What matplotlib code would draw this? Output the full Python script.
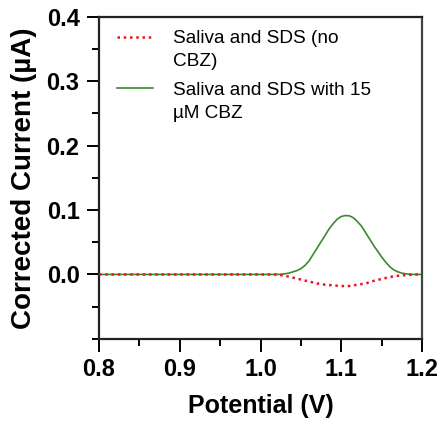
import matplotlib
matplotlib.use("Agg")
from matplotlib import pyplot as plt
from matplotlib.ticker import MultipleLocator
import numpy as np

plt.rcParams['font.family'] = ['Liberation Sans', 'DejaVu Sans']

# potential (V) and corrected current (uA)
pot_blank = [0.80, 0.90, 1.00, 1.02, 1.03, 1.04, 1.05, 1.06, 1.07, 1.08, 1.09,
             1.10, 1.11, 1.12, 1.13, 1.14, 1.15, 1.16, 1.17, 1.18, 1.19, 1.20]
no_cbz = [0.0, 0.0, 0.0, 0.0, -0.002, -0.005, -0.008, -0.011, -0.014, -0.016,
          -0.017, -0.018, -0.018, -0.016, -0.014, -0.010, -0.007, -0.004,
          -0.002, -0.001, 0.0, 0.0]

pot_cbz = [0.80, 0.90, 1.00, 1.020, 1.025, 1.030, 1.035, 1.040, 1.045, 1.050,
           1.055, 1.060, 1.065, 1.070, 1.075, 1.080, 1.085, 1.090, 1.095,
           1.100, 1.105, 1.110, 1.115, 1.120, 1.125, 1.130, 1.135, 1.140,
           1.145, 1.150, 1.155, 1.160, 1.165, 1.170, 1.175, 1.180, 1.185,
           1.190, 1.20]
with_cbz = [0.0, 0.0, 0.0, 0.0, 0.0003, 0.001, 0.002, 0.004, 0.006, 0.009,
            0.014, 0.021, 0.031, 0.041, 0.051, 0.061, 0.071, 0.079, 0.086,
            0.090, 0.0915, 0.091, 0.088, 0.082, 0.075, 0.065, 0.055, 0.045,
            0.036, 0.027, 0.019, 0.012, 0.007, 0.004, 0.002, 0.001, 0.0003,
            0.0, 0.0]

labels = ['Saliva and SDS (no\nCBZ)', 'Saliva and SDS with 15\n\u00b5M CBZ']

fig, ax = plt.subplots(figsize=(4.42, 4.23), dpi=100)
fig.subplots_adjust(left=0.224, right=0.955, top=0.960, bottom=0.199)

ax.plot(pot_blank, no_cbz, color='#e8141c', lw=1.8, linestyle=(0, (1, 1.5)),
        label=labels[0], zorder=3)
ax.plot(pot_cbz, with_cbz, color='#3a8a2e', lw=1.2, label=labels[1], zorder=2)

ax.set_xlim(0.8, 1.2)
ax.set_ylim(-0.1, 0.4)
ax.set_xticks([0.8, 0.9, 1.0, 1.1, 1.2])
ax.set_yticks([0.0, 0.1, 0.2, 0.3, 0.4])
ax.xaxis.set_minor_locator(MultipleLocator(0.05))
ax.yaxis.set_minor_locator(MultipleLocator(0.05))
ax.tick_params(which='major', length=9, width=1.4, labelsize=17, pad=5)
ax.tick_params(which='minor', length=5, width=1.4)
for lab in ax.get_xticklabels() + ax.get_yticklabels():
    lab.set_fontweight('bold')

for s in ax.spines.values():
    s.set_linewidth(1.6)
    s.set_color('#222222')
ax.spines['right'].set_color('#444444')

ax.set_xlabel('Potential (V)', fontsize=18, fontweight='bold', labelpad=9)
ax.set_ylabel('Corrected Current (\u00b5A)', fontsize=20, fontweight='bold', labelpad=7)

leg = ax.legend(loc='upper left', frameon=False, fontsize=13.7, handlelength=1.9,
                handletextpad=1.05, labelspacing=0.62, borderaxespad=0.3,
                bbox_to_anchor=(0.015, 1.0))
for t in leg.get_texts():
    t.set_linespacing(1.45)
# put each handle level with the first line of its label
for ln in leg.get_lines():
    ln.set_ydata(np.asarray(ln.get_ydata()) + 9.5)

fig.savefig('out.png', dpi=100)
